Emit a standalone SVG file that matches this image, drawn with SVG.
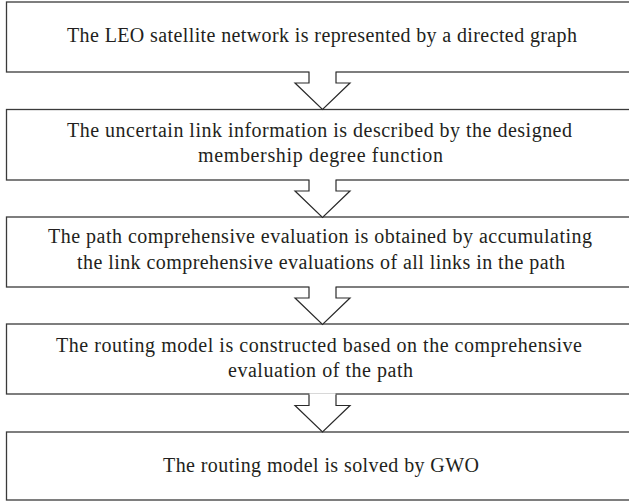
<svg xmlns="http://www.w3.org/2000/svg" xmlns:xlink="http://www.w3.org/1999/xlink" width="629" height="502" viewBox="0 0 629 502">
  <style>
    .box { fill: #ffffff; stroke: #3a3a3a; stroke-width: 1.3; }
    .lbl { font-family: "Liberation Serif", "Times New Roman", serif; font-size: 20px; fill: #231f20; }
    .arr { fill: #ffffff; stroke: #2a2a2a; stroke-width: 1.2; stroke-linejoin: miter; }
  </style>
  <defs>
    <g id="arrow">
      <rect x="-13" y="-1.2" width="26" height="2.4" fill="#ffffff"/>
      <path class="arr" d="M-13.5,0 V11 H-27.5 L0,37.5 L27.5,11 H13.5 V0"/>
    </g>
  </defs>
  <rect width="629" height="502" fill="#ffffff"/>

  <g id="node1">
    <rect class="box" x="6.5" y="2" width="630" height="70"/>
    <text class="lbl" x="67" y="42" textLength="510">The LEO satellite network is represented by a directed graph</text>
  </g>
  <g id="node2">
    <rect class="box" x="6.5" y="109.5" width="630" height="70.5"/>
    <text class="lbl" x="67" y="137" textLength="505">The uncertain link information is described by the designed</text>
    <text class="lbl" x="198" y="162" textLength="245">membership degree function</text>
  </g>
  <g id="node3">
    <rect class="box" x="6.5" y="217" width="630" height="70"/>
    <text class="lbl" x="48" y="243" textLength="544">The path comprehensive evaluation is obtained by accumulating</text>
    <text class="lbl" x="77" y="269" textLength="488">the link comprehensive evaluations of all links in the path</text>
  </g>
  <g id="node4">
    <rect class="box" x="6.5" y="324" width="630" height="70"/>
    <text class="lbl" x="56" y="352" textLength="526">The routing model is constructed based on the comprehensive</text>
    <text class="lbl" x="228" y="377" textLength="185">evaluation of the path</text>
  </g>
  <g id="node5">
    <rect class="box" x="6.5" y="432" width="630" height="68"/>
    <text class="lbl" x="163" y="472" textLength="316">The routing model is solved by GWO</text>
  </g>

  <g id="connectors">
    <use xlink:href="#arrow" transform="translate(322.5,72)"/>
    <use xlink:href="#arrow" transform="translate(322.5,180)"/>
    <use xlink:href="#arrow" transform="translate(322.5,287)"/>
    <use xlink:href="#arrow" transform="translate(322.5,394.5)"/>
  </g>
</svg>
